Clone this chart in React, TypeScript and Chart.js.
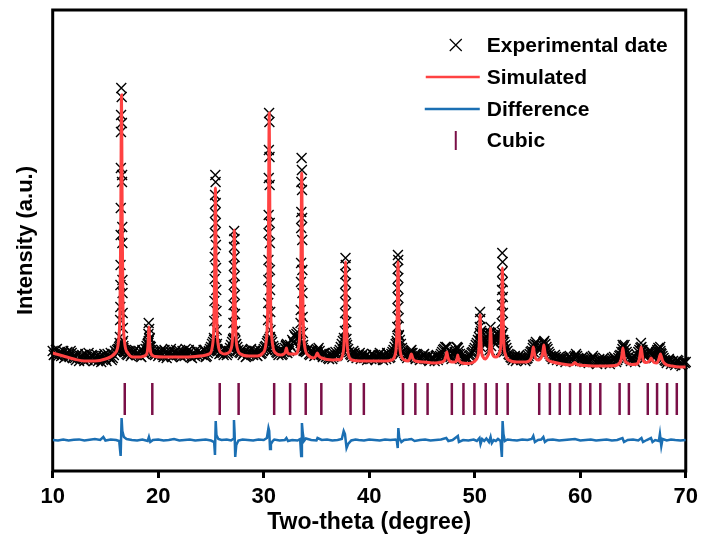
import { useEffect, useRef } from "react";
import { Chart, registerables } from "chart.js";

Chart.register(...registerables);

const FONT = "'Liberation Sans', Arial, Helvetica, sans-serif";

const xTicks = [10, 20, 30, 40, 50, 60, 70];
const legendLabels = ["Experimental date", "Simulated", "Difference", "Cubic"];

// Experimental data: background band sampled every 0.2 deg from 10.0 deg
const expStart = 10;
const expStep = 0.2;
const expBaseline = [
  120, 117, 122, 118, 115, 120, 116, 119, 114, 118,
  115, 111, 117, 113, 116, 110, 114, 118, 112, 115,
  111, 116, 113, 109, 115, 112, 117, 114, 111, 116,
  119, 122, 125, 128, 121, 117, 120, 115, 118, 121,
  116, 120, 114, 119, 122, 127, 133, 121, 117, 120,
  115, 119, 116, 121, 113, 118, 122, 115, 119, 116,
  120, 114, 118, 122, 116, 119, 113, 117, 121, 115,
  119, 116, 121, 115, 120, 124, 129, 127, 122, 117,
  120, 116, 121, 118, 123, 129, 133, 127, 121, 118,
  116, 120, 115, 119, 122, 116, 120, 115, 121, 118,
  122, 125, 130, 134, 129, 123, 119, 116, 121, 117,
  123, 127, 120, 124, 129, 134, 139, 131, 125, 121,
  119, 122, 116, 120, 115, 119, 123, 117, 114, 118,
  115, 112, 117, 114, 119, 116, 121, 127, 133, 128,
  122, 117, 114, 118, 113, 116, 112, 117, 114, 111,
  115, 112, 116, 111, 114, 118, 113, 116, 112, 117,
  114, 119, 124, 130, 135, 127, 120, 116, 113, 118,
  121, 115, 112, 116, 111, 114, 117, 112, 115, 111,
  114, 110, 116, 113, 117, 121, 124, 119, 115, 112,
  116, 121, 123, 117, 113, 110, 114, 112, 116, 119,
  123, 128, 134, 140, 131, 127, 133, 138, 132, 129,
  134, 139, 131, 136, 129, 123, 117, 114, 111, 115,
  112, 116, 111, 114, 110, 113, 117, 120, 125, 129,
  123, 121, 126, 130, 124, 119, 115, 112, 116, 111,
  114, 110, 113, 109, 112, 115, 111, 114, 117, 113,
  110, 114, 109, 112, 108, 111, 115, 110, 107, 112,
  109, 113, 108, 111, 107, 110, 114, 109, 113, 116,
  122, 126, 119, 114, 110, 113, 109, 116, 121, 124,
  118, 114, 117, 121, 116, 113, 119, 123, 120, 115,
  111, 108, 112, 107, 110, 106, 111, 108, 105, 109,
  109,
];

// Experimental data: interleaved samples every 0.2 deg from 10.1 deg
const expMidStart = 10.1;
const expBaselineMid = [
  116, 121, 115, 119, 117, 113, 118, 115, 120, 113,
  113, 116, 110, 115, 112, 117, 111, 114, 116, 110,
  114, 110, 115, 112, 117, 110, 114, 118, 113, 120,
  121, 124, 127, 123, 119, 116, 119, 117, 120, 116,
  118, 115, 121, 117, 125, 130, 124, 119, 116, 118,
  117, 121, 114, 119, 116, 120, 114, 118, 121, 117,
  116, 120, 115, 119, 121, 114, 118, 115, 119, 117,
  117, 121, 114, 118, 122, 127, 131, 125, 120, 118,
  118, 122, 116, 120, 126, 131, 130, 124, 119, 121,
  118, 114, 118, 121, 117, 120, 116, 119, 117, 120,
  124, 128, 132, 131, 125, 121, 118, 120, 116, 119,
  125, 122, 126, 131, 136, 137, 133, 128, 123, 120,
  120, 117, 121, 118, 116, 121, 120, 116, 118, 114,
  113, 116, 112, 117, 115, 119, 124, 130, 131, 126,
  119, 116, 120, 115, 114, 118, 115, 113, 116, 113,
  113, 117, 114, 112, 116, 115, 111, 114, 118, 113,
  117, 121, 127, 133, 131, 123, 118, 115, 117, 120,
  118, 114, 117, 113, 112, 116, 114, 113, 110, 113,
  112, 115, 111, 115, 119, 122, 123, 117, 114, 118,
  119, 124, 120, 115, 112, 113, 111, 115, 118, 121,
  126, 131, 138, 135, 129, 130, 136, 135, 130, 132,
  137, 135, 134, 131, 126, 120, 116, 113, 113, 110,
  114, 113, 113, 112, 112, 115, 119, 123, 127, 126,
  122, 124, 128, 127, 122, 117, 114, 113, 114, 113,
  112, 112, 111, 111, 114, 113, 110, 115, 115, 112,
  112, 111, 110, 110, 110, 113, 113, 108, 110, 110,
  111, 110, 110, 109, 109, 112, 112, 111, 115, 119,
  124, 122, 117, 112, 112, 111, 113, 119, 123, 121,
  116, 116, 119, 119, 115, 116, 121, 122, 117, 113,
  110, 110, 110, 109, 108, 109, 110, 107, 107, 108,
];

// Experimental points on the Bragg peaks
const expPeakPoints: [number, number][] = [
  [16.5, 383], [16.54, 374], [16.48, 356], [16.56, 348], [16.47, 339], [16.46, 303], [16.58, 296],
  [16.57, 289], [16.45, 263], [16.59, 244], [16.44, 236], [16.6, 228], [16.43, 206], [16.61, 191],
  [16.42, 186], [16.62, 178], [16.41, 164], [16.63, 158], [16.39, 151], [16.65, 143], [16.37, 134],
  [16.67, 130], [16.34, 128], [16.7, 125], [16.3, 122], [16.74, 121], [16.26, 120], [16.8, 119],
  [19.1, 148], [19.14, 142], [19.07, 137], [19.17, 132], [19.04, 128], [19.2, 125], [19.0, 122],
  [19.25, 121], [18.95, 119],
  [25.41, 296], [25.44, 289], [25.39, 276], [25.45, 268], [25.38, 258], [25.46, 248], [25.37, 238],
  [25.47, 226], [25.36, 214], [25.48, 203], [25.35, 192], [25.5, 181], [25.33, 170], [25.52, 160],
  [25.31, 150], [25.54, 141], [25.28, 133], [25.57, 127], [25.24, 123], [25.62, 121], [25.2, 119],
  [27.2, 240], [27.23, 232], [27.18, 224], [27.24, 214], [27.17, 205], [27.25, 195], [27.16, 186],
  [27.26, 176], [27.15, 166], [27.28, 157], [27.13, 148], [27.3, 140], [27.1, 132], [27.33, 126],
  [27.07, 122], [27.37, 120],
  [30.51, 358], [30.54, 349], [30.49, 321], [30.55, 314], [30.48, 293], [30.56, 286], [30.47, 256],
  [30.57, 248], [30.46, 238], [30.58, 228], [30.45, 211], [30.59, 201], [30.44, 191], [30.6, 181],
  [30.43, 168], [30.62, 159], [30.41, 151], [30.64, 141], [30.38, 130], [30.67, 124], [30.34, 121],
  [30.72, 120],
  [32.13, 126], [32.18, 121], [32.08, 119], [32.24, 118],
  [33.59, 313], [33.62, 301], [33.57, 289], [33.63, 281], [33.56, 259], [33.64, 253], [33.55, 243],
  [33.65, 231], [33.54, 208], [33.66, 201], [33.53, 189], [33.67, 178], [33.51, 161], [33.69, 154],
  [33.49, 148], [33.71, 138], [33.46, 131], [33.74, 126], [33.42, 122], [33.78, 120],
  [35.06, 119], [35.12, 117],
  [37.75, 213], [37.78, 206], [37.73, 197], [37.79, 188], [37.72, 178], [37.8, 168], [37.71, 158],
  [37.82, 149], [37.69, 140], [37.84, 132], [37.66, 125], [37.88, 121], [37.62, 119],
  [42.72, 216], [42.75, 211], [42.7, 202], [42.76, 193], [42.69, 183], [42.77, 173], [42.68, 163],
  [42.79, 153], [42.66, 144], [42.81, 136], [42.63, 128], [42.85, 123], [42.59, 119], [42.9, 117],
  [43.97, 118], [44.03, 115],
  [47.33, 124], [47.38, 118], [47.28, 115],
  [48.37, 123], [48.42, 117], [48.3, 114],
  [50.5, 159], [50.53, 152], [50.48, 144], [50.55, 137], [50.46, 130], [50.58, 124], [50.42, 120],
  [51.49, 144], [51.52, 138], [51.46, 131], [51.55, 125], [51.42, 121],
  [52.61, 218], [52.64, 209], [52.6, 199], [52.65, 189], [52.59, 181], [52.66, 174], [52.58, 166],
  [52.67, 158], [52.56, 148], [52.69, 138], [52.54, 131], [52.72, 125], [52.5, 121], [52.77, 119],
  [55.53, 126], [55.58, 119], [55.47, 116],
  [56.53, 129], [56.58, 121], [56.47, 117],
  [64.02, 126], [64.07, 119], [63.96, 115],
  [65.75, 128], [65.8, 120], [65.7, 115],
  [66.7, 117],
  [67.58, 124], [67.63, 118], [67.54, 114],
];

// Simulated (calculated) profile
const simulated: [number, number][] = [
  [10, 118], [11, 115], [12, 112], [13, 110], [14, 110], [15, 112],
  [15.92, 118], [16.24, 130], [16.38, 166], [16.45, 245], [16.485, 324], [16.52, 376], [16.555, 324],
  [16.59, 245], [16.66, 166], [16.8, 130], [17.12, 118],
  [17.6, 114], [18.3, 114],
  [18.52, 114.5], [18.84, 116], [18.98, 120], [19.05, 129], [19.085, 138], [19.12, 144], [19.155, 138],
  [19.19, 129], [19.26, 120], [19.4, 116], [19.72, 114.5],
  [20.5, 114], [22, 114], [23.5, 114.5],
  [24.82, 117], [25.14, 125], [25.28, 149], [25.35, 199], [25.385, 249], [25.42, 283], [25.455, 249],
  [25.49, 199], [25.56, 149], [25.7, 125],
  [26.0, 118], [26.3, 117], [26.61, 118],
  [26.93, 123], [27.07, 140], [27.14, 178], [27.175, 216], [27.21, 241], [27.245, 216], [27.28, 178],
  [27.35, 140], [27.49, 123], [27.81, 117],
  [28.6, 115], [29.4, 115],
  [29.92, 118], [30.24, 130], [30.38, 164], [30.45, 236], [30.485, 309], [30.52, 358], [30.555, 309],
  [30.59, 236], [30.66, 164], [30.8, 130], [31.12, 118],
  [31.6, 116],
  [31.9, 117], [32.05, 119], [32.1, 121], [32.15, 123], [32.2, 121], [32.27, 118], [32.5, 117],
  [33.0, 117], [33.32, 125], [33.46, 151], [33.53, 206], [33.565, 261], [33.6, 298], [33.635, 261],
  [33.67, 206], [33.74, 151], [33.88, 125], [34.2, 116],
  [34.7, 113], [34.95, 115], [35.03, 117], [35.08, 118], [35.13, 117], [35.22, 115], [35.5, 113],
  [36.5, 111], [37.1, 111.5],
  [37.16, 111], [37.48, 116], [37.62, 130], [37.69, 160], [37.725, 189], [37.76, 209], [37.795, 189],
  [37.83, 160], [37.9, 130], [38.04, 116], [38.36, 111],
  [39.2, 110], [40.5, 110], [41.6, 110],
  [42.13, 111], [42.45, 116], [42.59, 130], [42.66, 160], [42.695, 189], [42.73, 209], [42.765, 189],
  [42.8, 160], [42.87, 130], [43.01, 116], [43.33, 111],
  [43.7, 110], [43.86, 113], [43.93, 115.5], [43.99, 117], [44.05, 115.5], [44.12, 113], [44.35, 110],
  [45.2, 109], [46.2, 108],
  [46.9, 109], [47.15, 111], [47.27, 115], [47.35, 119], [47.43, 115], [47.55, 111], [47.8, 109],
  [48.1, 109], [48.25, 110], [48.33, 113], [48.39, 116], [48.45, 113], [48.55, 110], [48.8, 108],
  [49.4, 107.5], [49.9, 109],
  [50.1, 111], [50.23, 113], [50.37, 119], [50.44, 131], [50.475, 146], [50.51, 156], [50.545, 146],
  [50.58, 131], [50.65, 119], [50.79, 114], [51.0, 112],
  [51.22, 115], [51.36, 119], [51.43, 126], [51.465, 136], [51.5, 143], [51.535, 136], [51.57, 126],
  [51.64, 119], [51.78, 115], [52.0, 114],
  [52.34, 118], [52.48, 128], [52.55, 155], [52.585, 184], [52.62, 203], [52.655, 184], [52.69, 155],
  [52.76, 128], [52.9, 117], [53.22, 111],
  [54.0, 109], [54.8, 109],
  [55.15, 110], [55.35, 113], [55.47, 119], [55.55, 124], [55.63, 119], [55.75, 113], [56.0, 111],
  [56.2, 112], [56.4, 116], [56.48, 121], [56.55, 126], [56.62, 121], [56.72, 115], [56.95, 111],
  [57.4, 109], [58.3, 107], [59.0, 106],
  [59.3, 106.5], [59.42, 108], [59.48, 108.5], [59.55, 108], [59.7, 106.5],
  [60.5, 105.5], [61.5, 105], [62.5, 105], [63.3, 105.5],
  [63.65, 107], [63.86, 111], [63.96, 117], [64.04, 123], [64.12, 117], [64.22, 111], [64.45, 108],
  [64.9, 106.5],
  [65.35, 107], [65.58, 111], [65.69, 118], [65.77, 124], [65.85, 118], [65.96, 111], [66.2, 108.5],
  [66.45, 109], [66.6, 111], [66.71, 113], [66.82, 111], [67.0, 108.5],
  [67.25, 108], [67.45, 112], [67.53, 115], [67.6, 117], [67.67, 115], [67.78, 111], [68.05, 107],
  [68.7, 105], [69.4, 104], [70, 104],
];

// Difference curve (offset below the pattern)
const difference: [number, number][] = [
  [10, 31], [10.5, 30.5], [11, 31.5], [11.5, 30.6], [12, 31.2], [12.5, 31.6], [13, 30.5], [13.5, 31.2],
  [14, 32], [14.5, 31], [14.8, 34], [15, 30.5], [15.5, 31.5], [16, 31], [16.3, 30], [16.44, 15],
  [16.53, 53], [16.6, 40], [16.75, 34], [17, 32], [17.5, 31], [18, 30.5], [18.5, 31.5], [19, 30],
  [19.12, 34], [19.25, 29], [19.5, 31], [20, 31.5], [20.5, 30.5], [21, 31], [21.5, 32], [22, 30.5],
  [22.5, 31], [23, 31.5], [23.5, 30.5], [24, 31], [24.5, 31.5], [25, 30.5], [25.3, 29], [25.38, 16],
  [25.45, 50], [25.52, 36], [25.7, 32], [26, 31], [26.5, 31.5], [26.9, 30.5], [27.1, 32], [27.18, 51],
  [27.24, 38], [27.3, 14], [27.4, 26], [27.6, 30.5], [28, 31.5], [28.5, 31], [29, 30.5], [29.5, 31.5],
  [30, 31], [30.3, 33], [30.45, 43], [30.52, 40], [30.6, 22], [30.68, 27], [30.85, 30], [31, 31.5],
  [31.5, 30.5], [32, 31], [32.15, 33], [32.3, 30], [32.7, 31], [33.2, 30.5], [33.45, 32], [33.55, 15],
  [33.62, 48], [33.7, 38], [33.82, 30], [34, 32.5], [34.5, 31], [35, 30.5], [35.1, 33], [35.5, 31],
  [36, 31.5], [36.5, 30.5], [37, 31], [37.4, 32], [37.58, 40], [37.7, 37], [37.85, 23], [38, 27],
  [38.3, 30.5], [38.7, 31.5], [39, 31], [39.5, 30.5], [40, 31.5], [40.5, 31], [41, 30.5], [41.5, 31.5],
  [42, 31], [42.5, 31.5], [42.62, 30], [42.7, 23], [42.76, 43], [42.85, 33], [43.05, 29], [43.3, 31],
  [43.7, 31.5], [44, 32], [44.3, 30], [44.8, 31], [45.3, 31.5], [45.8, 30.5], [46.3, 31], [46.8, 31.5],
  [47.3, 33], [47.5, 30], [47.9, 31], [48.4, 35], [48.5, 29], [48.9, 31], [49.4, 30.5], [49.9, 31.5],
  [50.2, 30], [50.45, 33], [50.55, 27], [50.7, 32], [50.9, 30], [51.1, 32.5], [51.35, 29], [51.5, 34],
  [51.62, 28], [51.8, 31], [52, 30], [52.2, 32], [52.45, 30], [52.57, 14], [52.64, 50], [52.72, 37],
  [52.85, 30], [53.1, 31.5], [53.5, 31], [54, 30.5], [54.5, 31.5], [55, 31], [55.4, 32], [55.55, 35],
  [55.7, 29], [56, 31], [56.3, 31.5], [56.5, 34], [56.65, 29], [56.9, 31], [57.4, 31.5], [58, 30.5],
  [58.5, 31], [59, 31.5], [59.5, 32], [60, 30.5], [60.5, 31], [61, 31.5], [61.5, 30.5], [62, 31],
  [62.5, 31.5], [63, 30.5], [63.5, 31], [64, 33], [64.15, 29], [64.5, 31], [65, 31.5], [65.5, 30.5],
  [65.8, 33], [65.95, 29], [66.3, 31], [66.7, 33], [66.85, 29], [67.1, 31], [67.45, 30], [67.55, 37],
  [67.68, 25], [67.8, 32], [68.2, 30.5], [68.6, 31.5], [69, 31], [69.5, 30.5], [70, 31],
];

// Cubic phase Bragg positions (tick marks)
const cubicPositions = [
  16.83, 19.44, 25.83, 27.62, 30.99, 32.5, 33.98, 35.46, 38.23, 39.49, 43.2, 44.37, 45.53, 47.83,
  48.93, 49.97, 51.04, 52.08, 53.12, 56.11, 57.12, 58.06, 59.03, 60.01, 60.95, 61.9, 63.73, 64.61,
  66.4, 67.28, 68.23, 69.15,
];
const cubicRange = [56, 88];

const RED = "#ff4242";
const BLUE = "#1b6fb3";
const MAROON = "#7a0f47";

export default function App() {
  const ref = useRef<HTMLCanvasElement | null>(null);

  useEffect(() => {
    if (!ref.current) return;

    const expData = [
      ...expBaseline.map((y, i) => ({ x: +(expStart + i * expStep).toFixed(2), y })),
      ...expBaselineMid.map((y, i) => ({ x: +(expMidStart + i * expStep).toFixed(2), y })),
      ...expPeakPoints.map(([x, y]) => ({ x, y })),
    ];
    const simData = simulated.map(([x, y]) => ({ x, y }));
    const diffData = difference.map(([x, y]) => ({ x, y }));
    const cubicData: { x: number; y: number | null }[] = [];
    cubicPositions.forEach((p) => {
      cubicData.push({ x: p, y: cubicRange[0] });
      cubicData.push({ x: p, y: cubicRange[1] });
      cubicData.push({ x: p, y: null });
    });

    const framePlugin = {
      id: "frame",
      beforeDatasetsDraw(chart: any) {
        const { ctx, chartArea } = chart;
        const { left, top, right, bottom } = chartArea;
        ctx.save();
        ctx.strokeStyle = "#000";
        ctx.lineWidth = 3;
        ctx.strokeRect(left, top, right - left, bottom - top);
        ctx.restore();
      },
    };

    const legendPlugin = {
      id: "customLegend",
      afterDraw(chart: any) {
        const { ctx, chartArea } = chart;
        const symX = chartArea.right - 230;
        const textX = chartArea.right - 199;
        const y0 = chartArea.top + 35;
        const gap = 32;
        ctx.save();
        ctx.font = `bold 21px ${FONT}`;
        ctx.textBaseline = "middle";
        ctx.textAlign = "left";
        ctx.fillStyle = "#000";
        // Experimental: X marker
        ctx.strokeStyle = "#000";
        ctx.lineWidth = 1.2;
        const r = 6;
        ctx.beginPath();
        ctx.moveTo(symX - r, y0 - r);
        ctx.lineTo(symX + r, y0 + r);
        ctx.moveTo(symX + r, y0 - r);
        ctx.lineTo(symX - r, y0 + r);
        ctx.stroke();
        ctx.fillText(legendLabels[0], textX, y0 + 1);
        // Simulated
        let y = y0 + gap;
        ctx.strokeStyle = RED;
        ctx.lineWidth = 2.5;
        ctx.beginPath();
        ctx.moveTo(symX - 30, y);
        ctx.lineTo(symX + 24, y);
        ctx.stroke();
        ctx.fillText(legendLabels[1], textX, y + 1);
        // Difference
        y = y0 + gap * 2;
        ctx.strokeStyle = BLUE;
        ctx.beginPath();
        ctx.moveTo(symX - 31, y);
        ctx.lineTo(symX + 24, y);
        ctx.stroke();
        ctx.fillText(legendLabels[2], textX, y + 1);
        // Cubic
        y = y0 + gap * 3 - 1;
        ctx.strokeStyle = MAROON;
        ctx.lineWidth = 2;
        ctx.beginPath();
        ctx.moveTo(symX, y - 9);
        ctx.lineTo(symX, y + 10);
        ctx.stroke();
        ctx.fillText(legendLabels[3], textX, y + 1);
        ctx.restore();
      },
    };

    const chart = new Chart(ref.current, {
      type: "scatter",
      data: {
        datasets: [
          {
            label: legendLabels[1],
            data: simData,
            showLine: true,
            borderColor: RED,
            backgroundColor: RED,
            borderWidth: 3,
            pointRadius: 0,
            cubicInterpolationMode: "monotone",
          } as any,
          {
            label: legendLabels[0],
            data: expData,
            showLine: false,
            pointStyle: "crossRot",
            pointRadius: 7,
            borderColor: "#000",
            backgroundColor: "#000",
            pointBorderWidth: 1.4,
            clip: false,
          } as any,
          {
            label: legendLabels[2],
            data: diffData,
            showLine: true,
            borderColor: BLUE,
            backgroundColor: BLUE,
            borderWidth: 2.5,
            pointRadius: 0,
            tension: 0,
          } as any,
          {
            label: legendLabels[3],
            data: cubicData,
            showLine: true,
            spanGaps: false,
            borderColor: MAROON,
            backgroundColor: MAROON,
            borderWidth: 2.5,
            pointRadius: 0,
          } as any,
        ],
      },
      options: {
        animation: false,
        responsive: false,
        events: [],
        layout: { padding: { top: 10, right: 16, left: 0, bottom: 0 } },
        plugins: {
          legend: { display: false },
          tooltip: { enabled: false },
        },
        scales: {
          x: {
            type: "linear",
            min: 10,
            max: 70,
            afterBuildTicks: (scale: any) => {
              scale.ticks = xTicks.map((v) => ({ value: v }));
            },
            afterFit: (scale: any) => {
              scale.height = 75;
            },
            ticks: {
              color: "#000",
              font: { family: FONT, size: 22, weight: "bold" },
              padding: 6,
              maxRotation: 0,
            },
            grid: {
              display: true,
              drawOnChartArea: false,
              drawTicks: true,
              tickLength: 7,
              tickWidth: 3,
              tickColor: "#000",
            },
            border: { display: false },
            title: {
              display: true,
              text: "Two-theta (degree)",
              color: "#000",
              font: { family: FONT, size: 23, weight: "bold" },
              padding: { top: 0, bottom: 10 },
            },
          },
          y: {
            type: "linear",
            min: 0,
            max: 461,
            afterFit: (scale: any) => {
              scale.width = 52.7;
            },
            ticks: { display: false },
            grid: { display: false },
            border: { display: false },
            title: {
              display: true,
              text: "Intensity (a.u.)",
              color: "#000",
              font: { family: FONT, size: 22, weight: "bold" },
              padding: { top: 13, bottom: 0 },
            },
          },
        },
      } as any,
      plugins: [framePlugin, legendPlugin],
    });

    return () => chart.destroy();
  }, []);

  return (
    <div style={{ position: "fixed", left: 0, top: 0, width: 704, height: 546, background: "#fff" }}>
      <canvas ref={ref} width={704} height={546} style={{ display: "block" }} />
    </div>
  );
}
